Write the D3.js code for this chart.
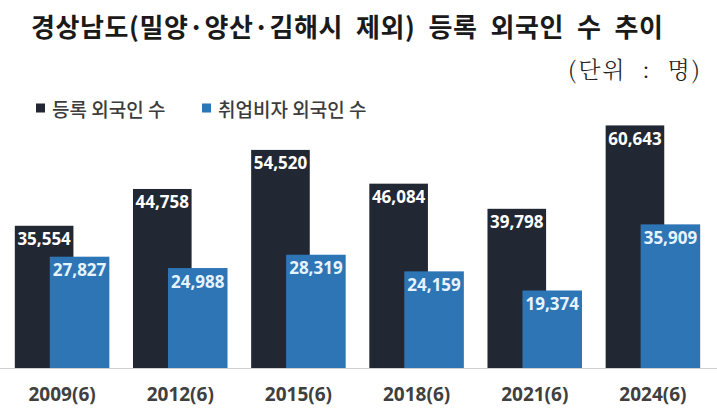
<!DOCTYPE html>
<html><head><meta charset="utf-8">
<script src="https://cdn.jsdelivr.net/npm/d3@7"></script>
<style>html,body{margin:0;padding:0;background:#fff;}svg{display:block;}</style>
</head><body>
<script>
const categories = ["2009(6)","2012(6)","2015(6)","2018(6)","2021(6)","2024(6)"];
const registered = [35554, 44758, 54520, 46084, 39798, 60643];
const workVisa = [27827, 24988, 28319, 24159, 19374, 35909];
const seriesNames = ["등록 외국인 수", "취업비자 외국인 수"];
const titleText = "경상남도(밀양·양산·김해시  제외)  등록  외국인  수  추이";
const unitText = "(단위  :  명)";

const W = 717, H = 410;
const colors = ["#222833", "#2e75b6"];
const svg = d3.select("body").append("svg").attr("width", W).attr("height", H);
svg.append("rect").attr("width", W).attr("height", H).attr("fill", "#fff");

const x = d3.scaleBand().domain(categories).range([3, 712]).paddingInner(0.2).paddingOuter(0.1);
const y = d3.scaleLinear().domain([0, 70000]).range([368, 88]);
const fmt = d3.format(",");
const bw = x.bandwidth();

// title
svg.append("text").attr("x", 31).attr("y", 25).attr("dominant-baseline", "central")
  .attr("font-family", "'Noto Sans CJK KR', sans-serif").attr("font-weight", 700)
  .attr("font-size", 26).attr("fill", "#1a1a1a").attr("xml:space", "preserve")
  .attr("textLength", 632).attr("lengthAdjust", "spacing").text(titleText);
svg.append("text").attr("x", 568).attr("y", 68).attr("dominant-baseline", "central")
  .attr("font-family", "'Noto Serif CJK KR', 'Noto Sans CJK KR', serif").attr("font-weight", 300)
  .attr("font-size", 23).attr("fill", "#222").attr("xml:space", "preserve")
  .attr("textLength", 132).attr("lengthAdjust", "spacing").text(unitText);

// legend
const legX = [36, 202];
seriesNames.forEach((n, i) => {
  const g = svg.append("g").attr("transform", `translate(${legX[i]},108)`);
  g.append("rect").attr("x", 0).attr("y", -4.5).attr("width", 9).attr("height", 9).attr("fill", colors[i]);
  g.append("text").attr("x", 16).attr("y", 0).attr("dominant-baseline", "central")
    .attr("font-family", "'Noto Sans CJK KR', sans-serif").attr("font-size", 19).attr("font-weight", 500)
    .attr("fill", "#3c3c3c").text(n);
});

// axis baseline
svg.append("line").attr("x1", 0).attr("x2", W).attr("y1", y(0) + 0.5).attr("y2", y(0) + 0.5)
  .attr("stroke", "#d0d0d0").attr("stroke-width", 1);

const darkW = bw * 0.62, blueOff = bw * 0.37, blueW = bw * 0.63;

const g = svg.append("g");
categories.forEach((c, i) => {
  const x0 = x(c);
  g.append("rect").attr("x", x0).attr("y", y(registered[i])).attr("width", darkW)
    .attr("height", y(0) - y(registered[i])).attr("fill", colors[0]);
  g.append("rect").attr("x", x0 + blueOff).attr("y", y(workVisa[i])).attr("width", blueW)
    .attr("height", y(0) - y(workVisa[i])).attr("fill", colors[1]);
  g.append("text").attr("x", x0 + darkW / 2).attr("y", y(registered[i]) + 13)
    .attr("dominant-baseline", "central").attr("text-anchor", "middle")
    .attr("font-family", "'Open Sans', sans-serif").attr("font-weight", 700).attr("font-size", 17)
    .attr("fill", "#ffffff").text(fmt(registered[i]));
  g.append("text").attr("x", x0 + blueOff + blueW / 2).attr("y", y(workVisa[i]) + 13)
    .attr("dominant-baseline", "central").attr("text-anchor", "middle")
    .attr("font-family", "'Open Sans', sans-serif").attr("font-weight", 700).attr("font-size", 17)
    .attr("fill", "#e6f3ff").text(fmt(workVisa[i]));
});

// x axis labels
const xAxis = d3.axisBottom(x).tickSize(0).tickPadding(0);
const ax = svg.append("g").attr("transform", `translate(0,394)`).call(xAxis);
ax.select(".domain").remove();
ax.selectAll("text").attr("dy", "0.35em").attr("font-family", "'Open Sans', sans-serif")
  .attr("font-weight", 700).attr("font-size", 19).attr("fill", "#404040");
</script>
</body></html>
